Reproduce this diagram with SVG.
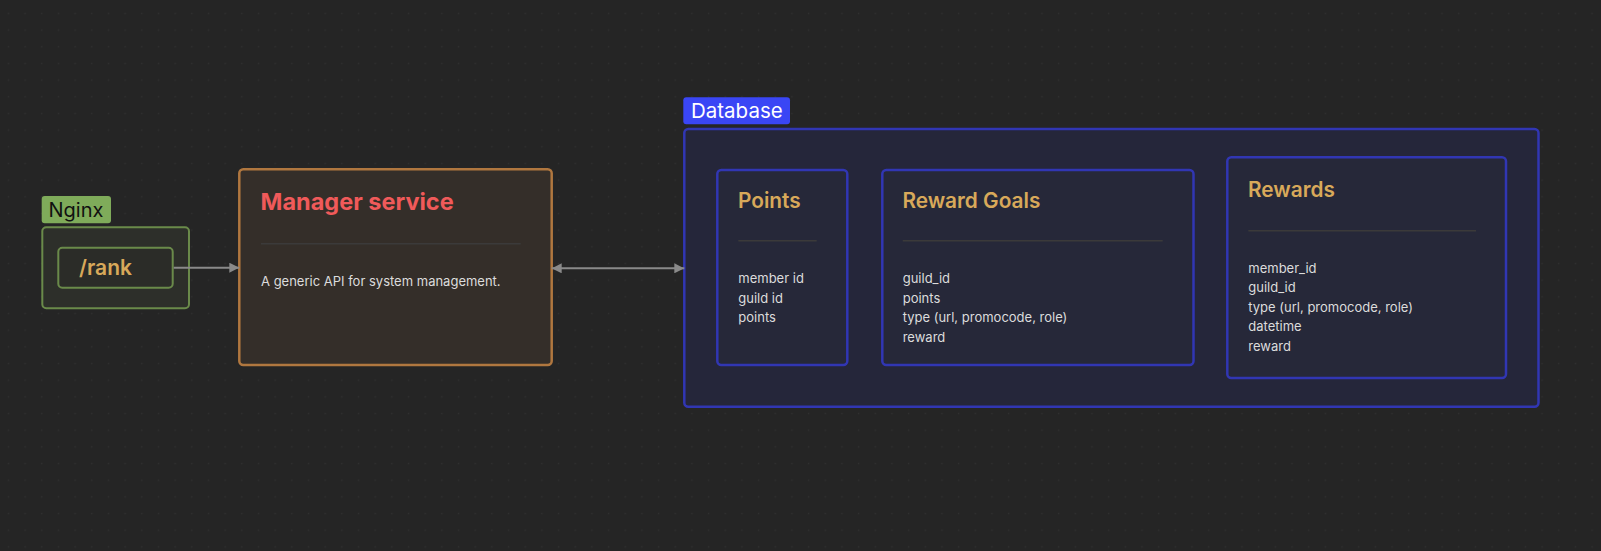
<svg xmlns="http://www.w3.org/2000/svg" width="1601" height="551" viewBox="0 0 1601 551">
<defs>
<pattern id="dots" x="0" y="5" width="16.67" height="16.67" patternUnits="userSpaceOnUse">
<rect x="7.8" y="7.8" width="1.3" height="1.3" fill="#313131"/>
</pattern>
<marker id="arr" viewBox="0 0 10 10" refX="10" refY="5" markerWidth="10" markerHeight="10" markerUnits="userSpaceOnUse" orient="auto-start-reverse">
<path d="M0,0 L10,5 L0,10 z" fill="#8a8a8a"/>
</marker>
<style>
.lbl{font-family:Inter,"Liberation Sans",sans-serif}
.ttl{font-family:Inter,"Liberation Sans",sans-serif;font-weight:600;font-size:20.8px;fill:#d8a95a}
.fld{font-family:Inter,"Liberation Sans",sans-serif;font-size:13px;fill:#dcdcdc}
.tbl{fill:#262839;stroke:#3136b3;stroke-width:2.5}
.div{stroke:#3b3a3a;stroke-width:1.5}
.conn{stroke:#8a8a8a;stroke-width:2;fill:none}
</style>
</defs>
<rect width="1601" height="551" fill="#252525"/>
<rect width="1601" height="551" fill="url(#dots)"/>

<g id="nginx">
<rect x="42.3" y="227.3" width="146.7" height="81" rx="4" fill="#2d2f2a" stroke="#6a8a4a" stroke-width="2"/>
<rect x="41.7" y="196" width="69.3" height="27.3" rx="3" fill="#7fab5a"/>
<text x="48.5" y="216.8" class="lbl" font-size="20" fill="#111">Nginx</text>
</g>
<g id="rank">
<rect x="58.3" y="247.7" width="114.4" height="40" rx="4" fill="#2b2c28" stroke="#6a8a4a" stroke-width="2"/>
<text x="79" y="275" class="lbl" font-size="21" font-weight="600" fill="#d8a95a">/rank</text>
</g>

<g id="manager">
<rect x="239.3" y="169.3" width="312.4" height="195.7" rx="4" fill="#342e29" stroke="#b0773f" stroke-width="2.5"/>
<text x="260.5" y="210" class="lbl" font-size="23.5" font-weight="700" fill="#f05a5a">Manager service</text>
<line x1="261" y1="243.7" x2="520.7" y2="243.7" class="div"/>
<text x="261" y="286" class="fld">A generic API for system management.</text>
</g>

<g id="database">
<rect x="684.3" y="129" width="854.2" height="277.7" rx="4" fill="#25263a" stroke="#3136b3" stroke-width="2.5"/>
<rect x="683.3" y="97.3" width="106.7" height="27" rx="3" fill="#3a46f5"/>
<text x="691" y="117.6" class="lbl" font-size="20.5" fill="#ffffff">Database</text>
</g>

<g id="points">
<rect x="717.3" y="170" width="130" height="195" rx="4" class="tbl"/>
<text x="738" y="208.3" class="ttl">Points</text>
<line x1="738.3" y1="240.7" x2="816.7" y2="240.7" class="div"/>
<text x="738.3" y="282.7" class="fld">member id</text>
<text x="738.3" y="302.5" class="fld">guild id</text>
<text x="738.3" y="322" class="fld">points</text>
</g>

<g id="reward-goals">
<rect x="882.3" y="170" width="311.2" height="195" rx="4" class="tbl"/>
<text x="902.4" y="208.3" class="ttl">Reward Goals</text>
<line x1="902.7" y1="240.7" x2="1162.7" y2="240.7" class="div"/>
<text x="902.7" y="282.7" class="fld">guild_id</text>
<text x="902.7" y="302.5" class="fld">points</text>
<text x="902.7" y="322" class="fld">type (url, promocode, role)</text>
<text x="902.7" y="341.7" class="fld">reward</text>
</g>

<g id="rewards">
<rect x="1227.3" y="157.3" width="278.7" height="220.7" rx="4" class="tbl"/>
<text x="1248" y="197.3" class="ttl">Rewards</text>
<line x1="1248.3" y1="230.7" x2="1476" y2="230.7" class="div"/>
<text x="1248.3" y="272.7" class="fld">member_id</text>
<text x="1248.3" y="292.3" class="fld">guild_id</text>
<text x="1248.3" y="311.7" class="fld">type (url, promocode, role)</text>
<text x="1248.3" y="331" class="fld">datetime</text>
<text x="1248.3" y="350.7" class="fld">reward</text>
</g>

<g id="connectors">
<line x1="173.7" y1="267.7" x2="239.3" y2="267.7" class="conn" marker-end="url(#arr)"/>
<line x1="551.7" y1="268.3" x2="684.3" y2="268.3" class="conn" marker-start="url(#arr)" marker-end="url(#arr)"/>
</g>
</svg>
